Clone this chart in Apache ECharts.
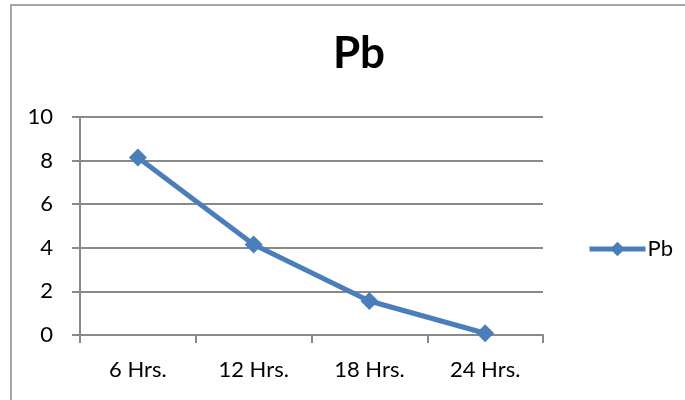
<!DOCTYPE html>
<html>
<head>
<meta charset="utf-8">
<script src="https://cdn.jsdelivr.net/npm/echarts@6/dist/echarts.min.js"></script>
<style>
  html, body { margin: 0; padding: 0; background: #fff; }
  #chart { width: 685px; height: 400px; }
</style>
</head>
<body>
<div id="chart"></div>
<script>
// Pb concentration over time
const categories = ['6 Hrs.', '12 Hrs.', '18 Hrs.', '24 Hrs.'];
const pbValues = [8.14, 4.15, 1.56, 0.08];
const yTicks = { min: 0, max: 10, interval: 2 };

const FONT = 'Lato, "Open Sans", sans-serif';
const AXIS_GRAY = '#898989';
const LINE_BLUE = '#4a7ebb';

const chart = echarts.init(document.getElementById('chart'), null, { renderer: 'canvas' });

chart.setOption({
  backgroundColor: '#fff',
  animation: false,
  graphic: [{
    type: 'rect',
    shape: { x: 11, y: 5, width: 700, height: 420 },
    style: { fill: 'none', stroke: '#8a8a8a', lineWidth: 1.5 },
    silent: true
  }],
  title: {
    text: 'Pb',
    left: 354,
    top: 27,
    textAlign: 'center',
    textStyle: { fontFamily: FONT, fontWeight: 'bold', fontSize: 44, color: '#000' }
  },
  legend: {
    data: ['Pb'],
    left: 582,
    top: 233,
    itemWidth: 56,
    itemHeight: 18,
    itemGap: 4,
    lineStyle: { width: 5 },
    textStyle: { fontFamily: FONT, fontSize: 22, color: '#000', padding: [0, 0, 0, -3] }
  },
  grid: { left: 80, right: 142, top: 117, bottom: 65, containLabel: false },
  xAxis: {
    type: 'category',
    data: categories,
    boundaryGap: true,
    axisLine: { lineStyle: { color: AXIS_GRAY, width: 2 } },
    axisTick: { show: true, length: 8, alignWithLabel: false, lineStyle: { color: AXIS_GRAY, width: 2 } },
    axisLabel: { fontFamily: FONT, fontSize: 22, color: '#000', margin: 24 },
    splitLine: { show: false }
  },
  yAxis: {
    type: 'value',
    min: yTicks.min,
    max: yTicks.max,
    interval: yTicks.interval,
    axisLine: { show: true, lineStyle: { color: AXIS_GRAY, width: 2 } },
    axisTick: { show: true, length: 8, lineStyle: { color: AXIS_GRAY, width: 2 } },
    axisLabel: { fontFamily: FONT, fontSize: 22, color: '#000', margin: 27 },
    splitLine: { show: true, lineStyle: { color: AXIS_GRAY, width: 2 } }
  },
  series: [{
    name: 'Pb',
    type: 'line',
    data: pbValues,
    symbol: 'diamond',
    symbolSize: 18,
    lineStyle: { color: LINE_BLUE, width: 5 },
    itemStyle: { color: LINE_BLUE },
    emphasis: { disabled: true }
  }]
});
</script>
</body>
</html>
